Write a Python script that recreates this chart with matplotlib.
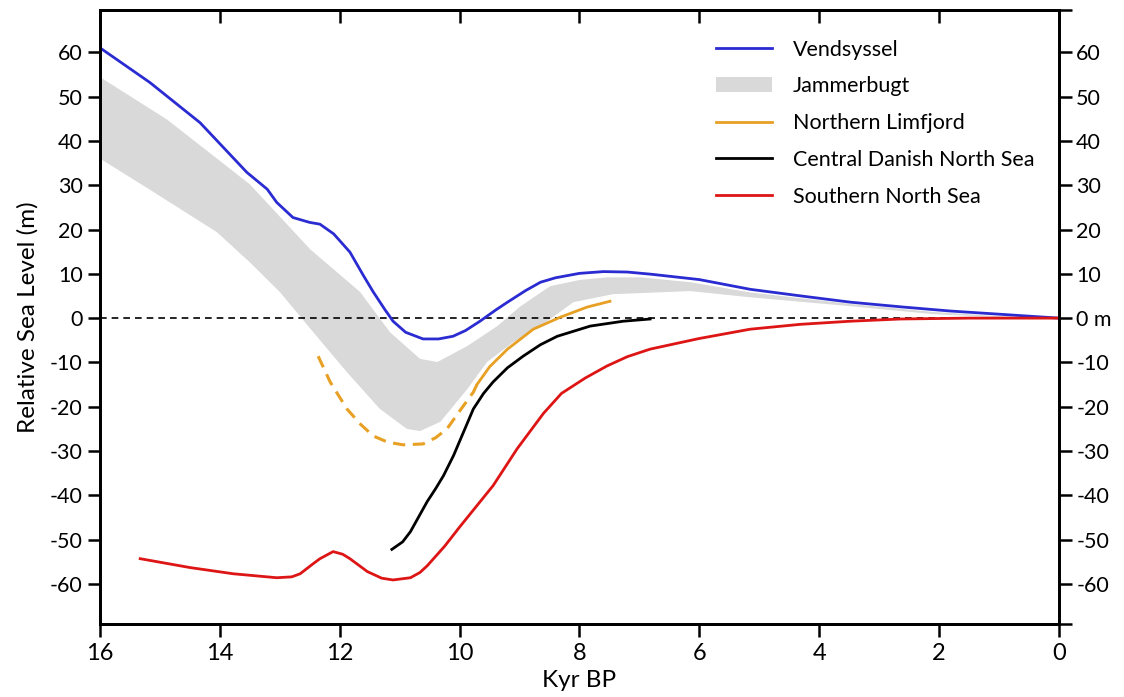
import numpy as np
import matplotlib.pyplot as plt

plt.rcParams['font.family'] = ['Lato', 'DejaVu Sans']
plt.rcParams['axes.unicode_minus'] = False

# Vendsyssel relative sea level curve (kyr BP, m)
vend_t = [16, 15.17, 14.33, 13.55, 13.21, 13.05, 12.78, 12.5, 12.33, 12.1, 11.83, 11.6, 11.44,
          11.25, 11.11, 10.9, 10.61, 10.35, 10.11, 9.9, 9.66, 9.4, 9.2, 8.9, 8.65, 8.4, 8.0,
          7.6, 7.2, 6.8, 6.0, 5.15, 4.3, 3.48, 2.6, 1.81, 0.9, 0]
vend_y = [61.0, 53.2, 44.1, 32.9, 29.1, 26.1, 22.7, 21.6, 21.2, 19.0, 14.9, 9.5, 5.9,
          2.0, -0.7, -3.2, -4.7, -4.7, -4.1, -2.8, -0.7, 1.8, 3.6, 6.2, 8.1, 9.1, 10.1,
          10.5, 10.4, 9.9, 8.7, 6.5, 5.0, 3.6, 2.5, 1.6, 0.8, 0]

# Jammerbugt envelope (upper and lower edges)
jam_up_t = [16, 14.88, 13.5, 12.49, 11.66, 11.16, 10.66, 10.37, 9.87, 9.37, 9.0, 8.49,
            8.0, 7.54, 6.98, 6.15, 5.15, 3.48, 2.1, 0.97, 0]
jam_up_y = [54.4, 44.8, 30.2, 15.5, 5.9, -3.2, -9.2, -9.9, -6.3, -1.8, 2.5, 7.2,
            8.6, 9.2, 9.2, 8.1, 5.8, 3.2, 1.4, 0.4, 0]
jam_lo_t = [16, 15.17, 14.05, 13.5, 13.0, 12.44, 11.88, 11.33, 10.88, 10.66, 10.32, 9.87,
            9.54, 9.1, 8.65, 8.1, 7.44, 6.15, 5.15, 3.48, 2.1, 0.97, 0]
jam_lo_y = [36.0, 29.0, 19.4, 12.6, 5.9, -3.2, -12.2, -20.5, -25.0, -25.5, -23.4, -16.0,
            -9.9, -5.4, -1.8, 3.6, 5.4, 6.1, 4.7, 2.7, 0.9, 0.2, 0]

# Northern Limfjord (dashed = extrapolated part, solid = observed part)
limd_t = [12.36, 12.16, 11.88, 11.65, 11.44, 11.2, 10.94, 10.61, 10.4, 10.21, 10.0, 9.77, 9.71]
limd_y = [-8.6, -14.4, -20.5, -24.0, -26.6, -28.0, -28.6, -28.4, -27.0, -25.0, -21.0, -16.7, -15.0]
lims_t = [9.71, 9.5, 9.2, 8.77, 8.32, 7.87, 7.49]
lims_y = [-15.0, -11.0, -7.0, -2.5, 0.2, 2.5, 3.8]

# Central Danish North Sea
cdns_t = [11.13, 10.95, 10.82, 10.68, 10.54, 10.4, 10.27, 10.1, 9.99, 9.77, 9.6, 9.44, 9.2,
          8.94, 8.65, 8.37, 7.82, 7.27, 6.82]
cdns_y = [-52.2, -50.5, -48.2, -44.8, -41.4, -38.5, -35.6, -31.0, -27.5, -20.5, -17.0, -14.4,
          -11.2, -8.6, -6.0, -4.1, -1.8, -0.7, -0.2]

# Southern North Sea
sns_t = [15.33, 14.5, 13.78, 13.05, 12.8, 12.66, 12.45, 12.33, 12.11, 11.95, 11.83, 11.54,
         11.3, 11.11, 10.82, 10.66, 10.54, 10.25, 9.99, 9.44, 9.04, 8.6, 8.3, 7.9, 7.54,
         7.2, 6.82, 6.0, 5.15, 4.31, 3.48, 2.64, 1.5, 0]
sns_y = [-54.3, -56.3, -57.7, -58.6, -58.4, -57.7, -55.5, -54.3, -52.7, -53.3, -54.3, -57.2,
         -58.7, -59.1, -58.6, -57.4, -55.9, -51.5, -47.0, -37.8, -29.5, -21.5, -17.0, -13.5, -10.8,
         -8.7, -7.0, -4.6, -2.5, -1.4, -0.7, -0.2, 0, 0]

yticks = [60, 50, 40, 30, 20, 10, 0, -10, -20, -30, -40, -50, -60]
right_labels = ['60', '50', '40', '30', '20', '10', '0 m', '-10', '-20', '-30', '-40', '-50', '-60']
xticks = [16, 14, 12, 10, 8, 6, 4, 2, 0]

fig = plt.figure(figsize=(11.24, 6.97), dpi=100)
ax = fig.add_axes([0.089, 0.105, 0.853, 0.881])

ax.fill(jam_up_t + jam_lo_t[::-1], jam_up_y + jam_lo_y[::-1], color='#d9d9d9', lw=0,
        label='Jammerbugt', zorder=1)
ax.plot([16, 0], [0, 0], 'k--', lw=1.2, dashes=(4, 3), zorder=2)
ax.plot(vend_t, vend_y, color='#2b2bd2', lw=2.0, label='Vendsyssel', zorder=3)
ax.plot(limd_t, limd_y, color='#e8a024', lw=2.2, dashes=(4, 2.5), zorder=3)
ax.plot(lims_t, lims_y, color='#e8a024', lw=2.0, label='Northern Limfjord', zorder=3)
ax.plot(cdns_t, cdns_y, color='black', lw=2.0, label='Central Danish North Sea', zorder=3)
ax.plot(sns_t, sns_y, color='#dd1515', lw=2.0, label='Southern North Sea', zorder=3)

ax.set_xlim(16, 0)
ax.set_ylim(-69, 69.6)
ax.set_xticks(xticks)
ax.set_xticklabels([str(v) for v in xticks])
ax.set_yticks(yticks)
ax.tick_params(axis='both', direction='out', length=9, width=1.8, labelsize=15.5)
ax.tick_params(axis='x', pad=5, labelsize=17)
ax.set_xlabel('Kyr BP', fontsize=17.5, labelpad=4)
ax.set_ylabel('Relative Sea Level (m)', fontsize=17.5, labelpad=8)
for s in ax.spines.values():
    s.set_linewidth(2.0)

# inward ticks along the top edge
top = ax.secondary_xaxis('top')
top.set_xticks(xticks)
top.tick_params(direction='in', length=9, width=1.8, labelsize=0, labeltop=False)
top.spines['top'].set_linewidth(2.0)

# right hand axis with labels
ax2 = ax.twinx()
ax2.set_ylim(ax.get_ylim())
ax2.set_yticks([69.6] + yticks + [-69])
ax2.set_yticklabels([''] + right_labels + [''])
ax2.tick_params(axis='y', direction='out', length=9, width=1.8, labelsize=15.5)
for s in ax2.spines.values():
    s.set_linewidth(2.0)

h, l = ax.get_legend_handles_labels()
order = ['Vendsyssel', 'Jammerbugt', 'Northern Limfjord', 'Central Danish North Sea', 'Southern North Sea']
hh = [h[l.index(n)] for n in order]
ax.legend(hh, order, loc='upper right', bbox_to_anchor=(0.995, 0.983), frameon=False,
          fontsize=15.5, handlelength=2.6, handletextpad=1.0, labelspacing=0.78)

fig.savefig('out.png', dpi=100)
